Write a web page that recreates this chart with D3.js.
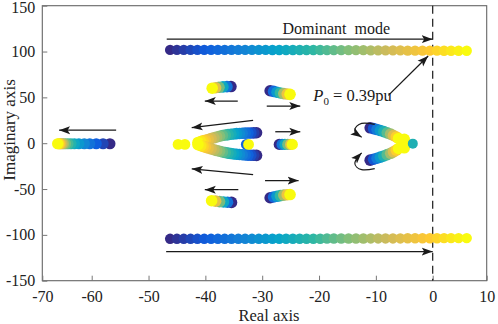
<!DOCTYPE html>
<html><head><meta charset="utf-8">
<script src="https://cdn.jsdelivr.net/npm/d3@7/dist/d3.min.js"></script>
<style>body{margin:0;background:#fff}</style>
</head><body><svg id="c" width="498" height="324"></svg>
<script>
// ---------- data ----------
const xTicks = [-70,-60,-50,-40,-30,-20,-10,0,10];
const yTicks = [-150,-100,-50,0,50,100,150];
const parulaStops = ["#352a87","#0f5cdd","#1481d6","#06a4ca","#2eb7a4","#87bf77","#d1bb59","#fec832","#f9fb0e"];

// dominant mode (conjugate pair), real parts shared
const dominantRe = [-46.2,-45.0,-43.8,-42.6,-41.4,-40.2,-39.0,-37.8,-36.6,-35.4,-34.2,-33.0,-31.8,-30.6,-29.4,-28.2,-27.0,-25.8,-24.6,-23.4,-22.2,-21.0,-19.8,-18.6,-17.4,-16.1,-14.8,-13.5,-12.2,-10.9,-9.6,-8.3,-7.0,-5.7,-4.4,-3.1,-1.8,-0.5,0.8,2.1,3.4,4.8,6.3];
const dominantImUpper = [101.8,101.8,101.8,101.8,101.8,101.8,101.8,101.8,101.8,101.8,101.8,101.8,101.8,101.8,101.8,101.7,101.7,101.7,101.7,101.7,101.7,101.7,101.7,101.5,101.5,101.5,101.5,101.5,101.5,101.3,101.3,101.3,101.3,101.3,101.0,101.0,101.0,101.0,101.0,100.8,100.8,100.8,100.8];
const dominantImLower = [-104.3,-104.3,-104.3,-104.3,-104.3,-104.3,-104.3,-104.3,-104.3,-104.3,-104.3,-104.3,-104.3,-104.3,-104.3,-104.2,-104.2,-104.2,-104.2,-104.2,-104.2,-104.2,-104.2,-104.0,-104.0,-104.0,-104.0,-104.0,-104.0,-103.9,-103.9,-103.9,-103.9,-103.9,-103.7,-103.7,-103.7,-103.7,-103.7,-103.5,-103.5,-103.5,-103.5];

// other modes, each listed from low P (blue) to high P (yellow)
const leftMode = [[-56.8,-0.6],[-58.0,-0.6],[-59.2,-0.6],[-60.4,-0.6],[-61.5,-0.6],[-62.6,-0.6],[-63.5,-0.6],[-64.2,-0.6],[-64.8,-0.6],[-65.3,-0.6],[-65.7,-0.6],[-66.0,-0.6],[-66.3,-0.6],[-66.5,-0.6],[-66.7,-0.6],[-66.9,-0.6]];
const modeUpperLeft = [[-35.5,61.8],[-36.2,61.7],[-36.9,61.4],[-37.6,61.0],[-38.2,60.5],[-38.8,60.0]];
const modeLowerLeft = [[-35.4,-64.6],[-36.1,-64.4],[-36.8,-64.1],[-37.5,-63.7],[-38.2,-63.2],[-38.9,-62.7]];
const modeUpperRight = [[-28.6,57.2],[-28.0,56.5],[-27.4,55.6],[-26.8,54.8],[-26.2,54.1],[-25.6,53.6],[-25.1,53.3]];
const modeLowerRight = [[-28.6,-59.5],[-28.0,-58.7],[-27.4,-57.9],[-26.8,-57.2],[-26.2,-56.6],[-25.6,-56.2],[-25.1,-56.0]];
const modeMidRight = [[-27.0,-1.3],[-26.5,-1.3],[-26.0,-1.3],[-25.5,-1.3],[-25.0,-1.3],[-24.7,-1.3]];
const modeInner = [[-32.8,-1.3],[-32.4,-1.3]];
const modeFarLeft = [[-44.8,-1.3],[-43.6,-1.3]];
const cUpper = [[-31,11.4],[-31.5,11.3],[-32,11.2],[-32.5,11.1],[-33,11.0],[-33.5,10.8],[-34,10.6],[-34.5,10.4],[-35,10.1],[-35.5,9.8],[-36,9.4],[-36.5,8.9],[-37,8.4],[-37.5,7.6],[-38,6.8],[-38.5,5.9],[-39,5.0],[-39.5,4.1],[-40,3.2],[-40.4,2.5],[-40.8,1.8],[-41.3,0.8]];
const cLower = [[-31,-13.3],[-31.5,-13.2],[-32,-13.1],[-32.5,-13.0],[-33,-12.8],[-33.5,-12.6],[-34,-12.3],[-34.5,-12.0],[-35,-11.7],[-35.5,-11.3],[-36,-10.8],[-36.5,-10.2],[-37,-9.6],[-37.5,-8.8],[-38,-8.0],[-38.5,-7.1],[-39,-6.2],[-39.5,-5.3],[-40,-4.3],[-40.4,-3.5],[-40.8,-2.8],[-41.3,-1.6]];
const vUpper = [[-11.0,16.8],[-10.4,15.9],[-9.8,14.9],[-9.2,13.8],[-8.6,12.6],[-8.0,11.3],[-7.4,9.9],[-6.9,8.4],[-6.4,6.8],[-6.0,5.2]];
const vLower = [[-11.0,-18.5],[-10.4,-17.5],[-9.8,-16.4],[-9.2,-15.2],[-8.6,-13.9],[-8.0,-12.5],[-7.4,-11.0],[-6.9,-9.4],[-6.4,-7.6],[-6.0,-5.8]];
const vJoin = [[-5.0,4.2],[-5.0,-5.0]];
const realDot = [[-3.5,-0.5]];

// arrows [re1, im1, re2, im2]
const straightArrows = [
  [-46.8,113.5,0,113.5],[-46.9,-118.2,0,-118.2],[-7.8,52.2,-0.8,95.2],
  [-55.7,14.2,-66.6,14.2],[-34.3,46,-40.1,46],[-29.2,40.5,-23.3,40.5],
  [-31.6,24.8,-42.4,16.9],[-31.6,-34.3,-42.4,-28.0],[-27.7,12.5,-23.3,12.5],
  [-29.5,-40.8,-23.6,-40.8],[-34.2,-50.7,-40.1,-50.7]
];
const curvedArrows = [
  [[-10.2,20.5],[-12.5,21.6],[-13.7,14.2],[-12.5,6.6]],
  [[-10.2,-27.7],[-12.5,-28.8],[-13.7,-21.5],[-12.5,-10.5]]
];

// ---------- drawing ----------
const svg = d3.select("#c");
const FONT = "'Liberation Serif','Times New Roman',serif";
const x = d3.scaleLinear().domain([-70,-60,0,10]).range([42.3,91.7,432.7,486.7]);
const y = d3.scaleLinear().domain([-150,150]).range([280.7,5.7]);
const color = d3.scaleLinear().domain(parulaStops.map((c,i)=>i/(parulaStops.length-1))).range(parulaStops);

svg.append("defs").append("marker")
  .attr("id","ah").attr("viewBox","0 -5 12 10").attr("refX",11).attr("refY",0)
  .attr("markerWidth",12).attr("markerHeight",10).attr("markerUnits","userSpaceOnUse")
  .attr("orient","auto")
  .append("path").attr("d","M0,-4L11,0L0,4L2.5,0Z").attr("fill","#1a1a1a");

// frame
svg.append("rect").attr("x",x(-70)).attr("y",y(150))
  .attr("width",x(10)-x(-70)).attr("height",y(-150)-y(150))
  .attr("fill","none").attr("stroke","#666").attr("stroke-width",1.1);

const gx = svg.append("g").attr("transform",`translate(0,${y(-150)})`)
  .call(d3.axisBottom(x).tickValues(xTicks).tickFormat(d=>String(d)).tickSizeInner(-5).tickSizeOuter(0).tickPadding(10));
const gy = svg.append("g").attr("transform",`translate(${x(-70)},0)`)
  .call(d3.axisLeft(y).tickValues(yTicks).tickFormat(d=>String(d)).tickSizeInner(-5).tickSizeOuter(0).tickPadding(7));
[gx,gy].forEach(g=>{
  g.select(".domain").remove();
  g.selectAll(".tick line").attr("stroke","#777");
  g.selectAll(".tick text").attr("fill","#222").style("font-family",FONT).style("font-size","16px");
});
// keep the top label inside the picture
gy.selectAll(".tick text").filter(d=>d===150).attr("dy","0.45em");

// dashed line at Re = 0
svg.append("line").attr("x1",x(0)).attr("x2",x(0)).attr("y1",y(150)).attr("y2",y(-150))
  .attr("stroke","#1a1a1a").attr("stroke-width",1.2).attr("stroke-dasharray","8,5");

// series (r: marker radius in px)
const series = [
  {pts: dominantRe.map((r,i)=>[r,dominantImUpper[i]]), t0:0, t1:1, r:5.2},
  {pts: dominantRe.map((r,i)=>[r,dominantImLower[i]]), t0:0, t1:1, r:5.2},
  {pts: leftMode, t0:0, t1:1, r:5.6},
  {pts: modeUpperLeft, t0:0, t1:1, r:5.8},
  {pts: modeLowerLeft, t0:0, t1:1, r:5.8},
  {pts: modeUpperRight, t0:0, t1:1, r:5.8},
  {pts: modeLowerRight, t0:0, t1:1, r:5.8},
  {pts: modeMidRight, t0:0, t1:1, r:5.6},
  {pts: cUpper, t0:0, t1:1, r:5.8},
  {pts: cLower, t0:0, t1:1, r:5.8},
  {pts: modeInner, t0:0.15, t1:1, r:5.4},
  {pts: modeFarLeft, t0:1, t1:1, r:5.4},
  {pts: vUpper, t0:0, t1:1, r:5.8},
  {pts: vLower, t0:0, t1:1, r:5.8},
  {pts: vJoin, t0:1, t1:1, r:5.8},
  {pts: realDot, t0:0.45, t1:0.45, r:5}
];
const gDots = svg.append("g");
series.forEach(s=>{
  const n = s.pts.length;
  gDots.selectAll(null).data(s.pts).enter().append("circle")
    .attr("cx",d=>x(d[0])).attr("cy",d=>y(d[1])).attr("r",s.r)
    .attr("fill",(d,i)=>color(n>1 ? s.t0+(s.t1-s.t0)*i/(n-1) : s.t0));
});

// arrows
svg.append("g").selectAll("line").data(straightArrows).enter().append("line")
  .attr("x1",d=>x(d[0])).attr("y1",d=>y(d[1])).attr("x2",d=>x(d[2])).attr("y2",d=>y(d[3]))
  .attr("stroke","#1a1a1a").attr("stroke-width",1.3).attr("marker-end","url(#ah)");
const curve = d3.line().x(d=>x(d[0])).y(d=>y(d[1])).curve(d3.curveNatural);
svg.append("g").selectAll("path").data(curvedArrows).enter().append("path")
  .attr("d",curve).attr("fill","none").attr("stroke","#1a1a1a").attr("stroke-width",1.2)
  .attr("marker-end","url(#ah)");

// annotations
svg.append("text").attr("x",x(-7.5)).attr("y",y(119)).attr("text-anchor","end")
  .style("white-space","pre").style("font-family",FONT).style("font-size","16px").attr("fill","#1a1a1a")
  .text("Dominant  mode");
const p0 = svg.append("text").attr("x",x(-21.0)).attr("y",y(46))
  .style("font-family",FONT).style("font-size","16.5px").attr("fill","#1a1a1a");
p0.append("tspan").style("font-style","italic").text("P");
p0.append("tspan").attr("dy",4).style("font-size","11px").text("0");
p0.append("tspan").attr("dy",-4).style("white-space","pre").text(" = 0.39pu");

// axis titles
svg.append("text").attr("x",(x(-70)+x(10))/2+4.5).attr("y",321).attr("text-anchor","middle")
  .style("font-family",FONT).style("font-size","16.5px").attr("fill","#222").text("Real axis");
svg.append("text").attr("transform","translate(15,130) rotate(-90)").attr("text-anchor","middle")
  .style("font-family",FONT).style("font-size","17px").attr("fill","#222").text("Imaginary axis");
</script></body></html>
